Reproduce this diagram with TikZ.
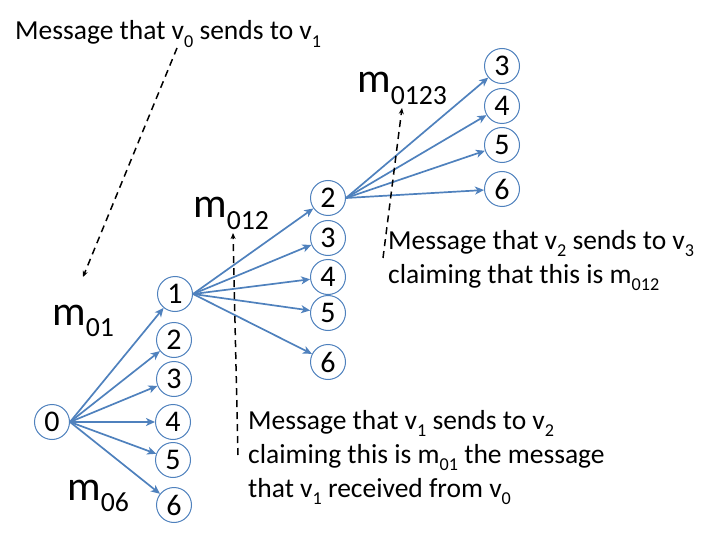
\documentclass[tikz,border=0pt]{standalone}
\usepackage{fontspec}
\setmainfont{Carlito}
\usetikzlibrary{arrows.meta}
\definecolor{edgeblue}{RGB}{79,129,189}
\newcommand{\dn}[1]{\raisebox{-.27em}{\scalebox{.66}{#1}}}

\begin{document}
\begin{tikzpicture}[x=1pt, y=-1pt]
    \tikzstyle{vtx} = [draw = edgeblue, line width = 1pt, circle, fill = white, minimum size = 35pt, inner sep = 0pt, font = \fontsize{30}{30}\selectfont];
    \tikzstyle{msg} = [anchor = base west, align = left, inner sep = 0pt, font = \fontsize{27.5}{34}\selectfont];
    \tikzstyle{lbl} = [anchor = base west, inner sep = 0pt, font = \fontsize{42}{42}\selectfont];
    \tikzstyle{send} = [edgeblue, line width = 1.7pt, -{Stealth[length = 9pt, width = 8pt, inset = 2.5pt]}];
    \tikzstyle{claim} = [black, line width = 1.5pt, dash pattern = on 7pt off 5pt, -{Stealth[length = 6pt, width = 5pt]}];
    \useasboundingbox (0,0) rectangle (720,540);
    % points:
    \node[vtx] (a0) at (52,422) {0};
    \node[vtx] (b1) at (175,294) {1};
    \node[vtx] (b2) at (174,340) {2};
    \node[vtx] (b3) at (174,379) {3};
    \node[vtx] (b4) at (173,422) {4};
    \node[vtx] (b5) at (173,460) {5};
    \node[vtx] (b6) at (174,505) {6};
    \node[vtx] (c2) at (328,198) {2};
    \node[vtx] (c3) at (328,238) {3};
    \node[vtx] (c4) at (328,277) {4};
    \node[vtx] (c5) at (328,313) {5};
    \node[vtx] (c6) at (328,362) {6};
    \node[vtx] (d3) at (502,66) {3};
    \node[vtx] (d4) at (502,106) {4};
    \node[vtx] (d5) at (502,145) {5};
    \node[vtx] (d6) at (502,189) {6};
    % labels:
    \node[lbl] (m01) at (52,325) {m\dn{01}};
    \node[lbl] (m06) at (67,500) {m\dn{06}};
    \node[lbl] (m012) at (193,218) {m\dn{012}};
    \node[lbl] (m0123) at (357,93) {m\dn{0123}};
    \node[msg] (msgA) at (15,40) {Message that v\dn{0} sends to v\dn{1}};
    \node[msg] (msgB) at (388,283) {Message that v\dn{2} sends to v\dn{3}\\claiming that this is m\dn{012}};
    \node[msg] (msgC) at (248,497) {Message that v\dn{1} sends to v\dn{2}\\claiming this is m\dn{01} the message\\that v\dn{1} received from v\dn{0}};
    \coordinate (tA) at (177,48);
    \coordinate (hA) at (83,277);
    \coordinate (tB) at (238,455);
    \coordinate (hB) at (233,233);
    \coordinate (tC) at (383,258);
    \coordinate (hC) at (402,108);
    % lines:
    \draw[send] (a0.east) -- (b1); \draw[send] (a0.east) -- (b2); \draw[send] (a0.east) -- (b3);
    \draw[send] (a0.east) -- (b4); \draw[send] (a0.east) -- (b5); \draw[send] (a0.east) -- (b6);
    \draw[send] (b1.east) -- (c2); \draw[send] (b1.east) -- (c3); \draw[send] (b1.east) -- (c4);
    \draw[send] (b1.east) -- (c5); \draw[send] (b1.east) -- (c6);
    \draw[send] (c2.east) -- (d3); \draw[send] (c2.east) -- (d4);
    \draw[send] (c2.east) -- (d5); \draw[send] (c2.east) -- (d6);
    \draw[claim] (tA) -- (hA);
    \draw[claim] (tB) -- (hB);
    \draw[claim] (tC) -- (hC);
\end{tikzpicture}
\end{document}
